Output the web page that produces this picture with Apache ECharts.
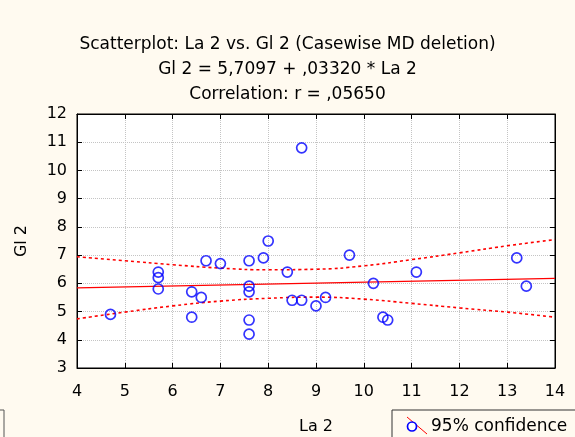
<!DOCTYPE html>
<html><head><meta charset="utf-8">
<script src="https://cdn.jsdelivr.net/npm/echarts@6/dist/echarts.min.js"></script>
<style>html,body{margin:0;padding:0;background:#fffaf0}#c{width:575px;height:437px}</style>
</head><body><div id="c"></div>
<script>
const titleLines = ['Scatterplot: La 2 vs. Gl 2 (Casewise MD deletion)', 'Gl 2 = 5,7097 + ,03320 * La 2', 'Correlation: r = ,05650'];
const xName = 'La 2';
const yName = 'Gl 2';
const la2 = [4.7,5.7,5.7,5.7,6.4,6.4,6.6,6.7,7.0,7.6,7.6,7.6,7.6,7.6,7.9,8.0,8.4,8.5,8.7,8.7,9.0,9.2,9.7,10.2,10.4,10.5,11.1,13.2,13.4];
const gl2 = [4.9,6.4,6.2,5.8,5.7,4.8,5.5,6.8,6.7,6.8,5.9,5.7,4.7,4.2,6.9,7.5,6.4,5.4,5.4,10.8,5.2,5.5,7.0,6.0,4.8,4.7,6.4,6.9,5.9];
const fitX = [4, 14];
const fitY = [5.8425, 6.1745];
const bandX = [4,5,6,7,8,9,10,11,12,13,14];
const upperY = [6.94,6.80,6.66,6.54,6.48,6.50,6.62,6.84,7.08,7.33,7.55];
const lowerY = [4.74,4.98,5.20,5.37,5.47,5.51,5.44,5.29,5.13,4.98,4.80];
const legendLabel = '95% confidence';

const FONT = '"DejaVu Sans", Verdana, sans-serif';
const chart = echarts.init(document.getElementById('c'));
const zip = (a,b) => a.map((v,i)=>[v,b[i]]);
const axisCommon = {
  axisLine: {show: true, onZero: false, lineStyle: {color: '#000', width: 1}},
  axisTick: {show: true, inside: true, length: 5, lineStyle: {color: '#000'}},
};
chart.setOption({
  backgroundColor: '#fffaf0',
  animation: false,
  title: titleLines.map((t,i)=>({
    text: t, left: 'center', top: 31 + i*25,
    textStyle: {fontFamily: FONT, fontSize: 17, fontWeight: 'normal', color: '#000'}
  })),
  grid: {left: 77, right: 20, top: 114, bottom: 69, containLabel: false, outerBoundsMode: 'none',
    show: true, backgroundColor: '#fff', borderColor: '#000', borderWidth: 1},
  xAxis: [
    Object.assign({}, axisCommon, {type: 'value', min: 4, max: 14, interval: 1, position: 'bottom',
      name: xName, nameLocation: 'middle', nameGap: 51,
      nameTextStyle: {fontFamily: FONT, fontSize: 16, color: '#000'},
      axisLabel: {fontFamily: FONT, fontSize: 16, color: '#000', margin: 16},
      splitLine: {show: true, lineStyle: {color: '#c4c4c4', type: [1,1], width: 1}}}),
    Object.assign({}, axisCommon, {type: 'value', min: 4, max: 14, interval: 1, position: 'top',
      axisLabel: {show: false}, splitLine: {show: false}})
  ],
  yAxis: [
    Object.assign({}, axisCommon, {type: 'value', min: 3, max: 12, interval: 1, position: 'left',
      name: yName, nameLocation: 'middle', nameGap: 47, nameRotate: 90,
      nameTextStyle: {fontFamily: FONT, fontSize: 16, color: '#000'},
      axisLabel: {fontFamily: FONT, fontSize: 16, color: '#000', margin: 10},
      splitLine: {show: true, lineStyle: {color: '#c4c4c4', type: [1,1], width: 1}}}),
    Object.assign({}, axisCommon, {type: 'value', min: 3, max: 12, interval: 1, position: 'right',
      axisLabel: {show: false}, splitLine: {show: false}})
  ],
  series: [
    {type: 'line', data: zip(fitX, fitY), symbol: 'none', lineStyle: {color: '#ff0000', width: 1.3}, z: 3},
    {type: 'line', data: zip(bandX, upperY), symbol: 'none', smooth: true, lineStyle: {color: '#ff0000', width: 1.6, type: [3,3]}, z: 3},
    {type: 'line', data: zip(bandX, lowerY), symbol: 'none', smooth: true, lineStyle: {color: '#ff0000', width: 1.6, type: [3,3]}, z: 3},
    {type: 'scatter', data: zip(la2, gl2), symbol: 'circle', symbolSize: 10,
      itemStyle: {color: 'transparent', borderColor: '#0000ff', borderWidth: 1.7}, z: 4}
  ],
  graphic: [
    {type: 'rect', shape: {x: -10, y: 410, width: 14, height: 40}, style: {fill: 'none', stroke: '#555', lineWidth: 1}},
    {type: 'rect', shape: {x: 392, y: 410, width: 200, height: 40}, style: {fill: 'none', stroke: '#333', lineWidth: 1}},
    {type: 'line', shape: {x1: 407, y1: 417, x2: 427, y2: 434}, style: {stroke: '#ff0000', lineWidth: 1}},
    {type: 'circle', shape: {cx: 412, cy: 426.5, r: 4.5}, style: {fill: '#fff', stroke: '#0000ff', lineWidth: 1.7}},
    {type: 'text', x: 431, y: 427, style: {text: legendLabel, fontFamily: FONT, fontSize: 17, fill: '#000', verticalAlign: 'middle'}}
  ]
});
</script></body></html>
